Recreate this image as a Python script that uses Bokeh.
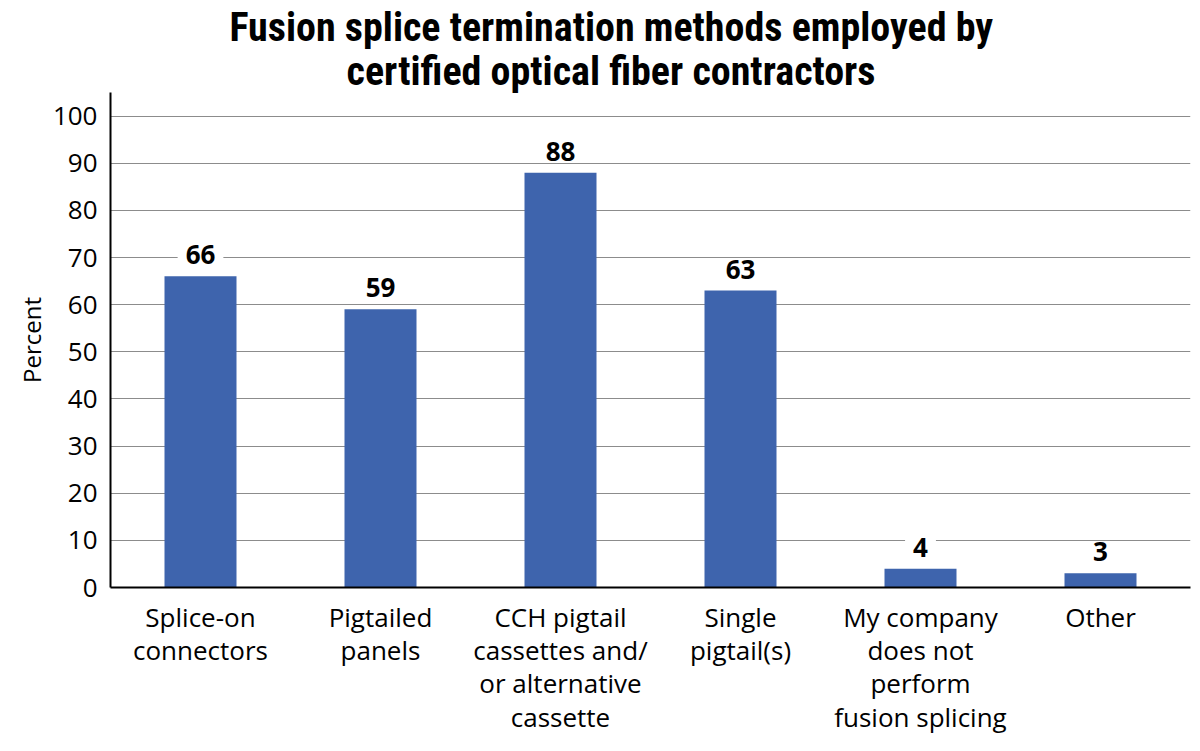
from bokeh.plotting import figure
from bokeh.models import ColumnDataSource, FactorRange, Range1d, FixedTicker, Title
from bokeh.core.properties import value
from bokeh.embed import file_html
from bokeh.resources import INLINE

categories = [
    "Splice-on\nconnectors",
    "Pigtailed\npanels",
    "CCH pigtail\ncassettes and/\nor alternative\ncassette",
    "Single\npigtail(s)",
    "My company\ndoes not\nperform\nfusion splicing",
    "Other",
]
values = [66, 59, 88, 63, 4, 3]
y_ticks = [0, 10, 20, 30, 40, 50, 60, 70, 80, 90, 100]
title_line1 = "Fusion splice termination methods employed by"
title_line2 = "certified optical fiber contractors"
y_label = "Percent"

BAR = "#3e64ad"
FONT = "Open Sans"
TFONT = "Roboto Condensed, Liberation Sans Narrow, Roboto"

src = ColumnDataSource(dict(cat=categories, val=values, txt=[str(v) for v in values]))

p = figure(
    x_range=FactorRange(factors=categories),
    y_range=Range1d(0, 105),
    width=1200, height=751,
    output_backend="svg", toolbar_location=None,
    min_border_left=110, min_border_right=10,
    min_border_top=92, min_border_bottom=164,
)
p.title = None
# added nearest-to-frame first
t2 = Title(text=title_line2, align="left", offset=236,
           text_font=TFONT, text_font_style="bold", text_font_size="40px",
           text_color="black", standoff=-4)
t1 = Title(text=title_line1, align="left", offset=119,
           text_font=TFONT, text_font_style="bold", text_font_size="40px",
           text_color="black", standoff=-6)
p.add_layout(t2, "above")
p.add_layout(t1, "above")

p.vbar(x="cat", top="val", width=0.4, source=src, fill_color=BAR, line_color=None)

p.text(x="cat", y="val", text="txt", source=src, y_offset=-12,
       text_align="center", text_baseline="bottom",
       text_font=value(FONT), text_font_style="bold", text_font_size="26px",
       text_color="black", background_fill_color="white",
       padding=dict(left=8, right=8, top=0, bottom=0))

p.outline_line_color = None
p.background_fill_color = "white"
p.border_fill_color = "white"

p.xgrid.grid_line_color = None
p.ygrid.grid_line_color = "#8c8c8c"
p.ygrid.grid_line_width = 1
p.ygrid.ticker = FixedTicker(ticks=y_ticks)
p.yaxis.ticker = FixedTicker(ticks=y_ticks)

for ax in (p.xaxis[0], p.yaxis[0]):
    ax.axis_line_color = "black"
    ax.axis_line_width = 2
    ax.major_tick_line_color = None
    ax.minor_tick_line_color = None
    ax.major_label_text_font = FONT
    ax.major_label_text_font_size = "26px"
    ax.major_label_text_color = "black"

p.yaxis.major_label_standoff = 7
p.xaxis.major_label_standoff = 5
p.xaxis.major_label_text_line_height = 0.93
p.yaxis.axis_label = y_label
p.yaxis.axis_label_text_font = FONT
p.yaxis.axis_label_text_font_style = "normal"
p.yaxis.axis_label_text_font_size = "24px"
p.yaxis.axis_label_text_color = "black"
p.yaxis.axis_label_standoff = 2

open("out.html", "w").write(file_html(p, INLINE))
